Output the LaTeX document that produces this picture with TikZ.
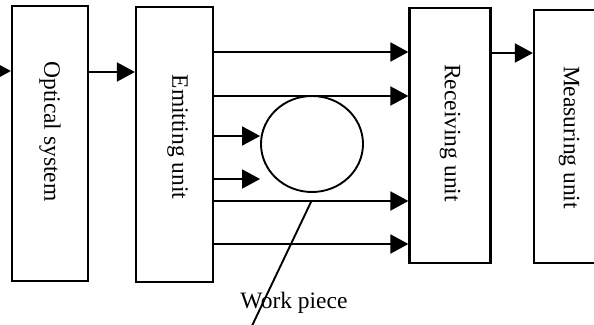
\documentclass[tikz,border=0pt]{standalone}
\usepackage{fontspec}
\setmainfont{Liberation Serif}
\usetikzlibrary{arrows.meta,shapes.geometric}
\tikzstyle{line} = [draw, line width=1.9pt, -{Triangle[length=18pt,width=19pt]}]
\tikzstyle{unitbox} = [rectangle, draw, line width=2.2pt, inner sep=0pt]
\tikzstyle{unittext} = [rotate=-90, inner sep=0pt, font=\fontsize{23.5}{28}\selectfont]

\begin{document}
\begin{tikzpicture}[x=1pt, y=-1pt]
\useasboundingbox (0,0) rectangle (594,324);
\clip (0,0) rectangle (594,324);

\node [unitbox, minimum width=76pt, minimum height=275pt] (opt) at (50,143.5) {};
\node [unitbox, minimum width=77pt, minimum height=275pt] (emit) at (174.5,144.5) {};
\node [unitbox, minimum width=81pt, minimum height=255pt] (recv) at (450,135.5) {};
\node [unitbox, minimum width=70pt, minimum height=253pt] (meas) at (569,136.5) {};

\node [unittext] (opt_t) at ([yshift=12pt]opt.center) {Optical system};
\node [unittext] (emit_t) at ([xshift=3pt,yshift=7.5pt]emit.center) {Emitting unit};
\node [unittext] (recv_t) at ([yshift=2.5pt]recv.center) {Receiving unit};
\node [unittext] (meas_t) at ([yshift=-1pt]meas.center) {Measuring unit};

\node [ellipse, draw, line width=1.9pt, minimum width=102pt, minimum height=96pt, inner sep=0pt] (wp) at (312,144) {};

\coordinate (src) at (-10,71);
\path [line] (src) -- (opt.west |- src);
\path [line] (opt.east |- 0,72) -- (emit.west |- 0,72);
\path [line] (recv.east |- 0,53) -- (meas.west |- 0,53);

% rays through the work piece
\path [line] (emit.east |- 0,52) -- (recv.west |- 0,52);
\path [line] (emit.east |- 0,96) -- (recv.west |- 0,96);
\path [line] (emit.east |- 0,136) -- (wp.west |- 0,136);
\path [line] (emit.east |- 0,179) -- (wp.west |- 0,179);
\path [line] (emit.east |- 0,201) -- (recv.west |- 0,201);
\path [line] (emit.east |- 0,244) -- (recv.west |- 0,244);

\node [anchor=base, inner sep=0pt, font=\fontsize{23.5}{28}\selectfont] (wp_t) at (294,308) {Work piece};
\coordinate (lead) at (250,330);
\draw [line width=1.9pt] ([xshift=-1pt,yshift=-9pt]wp.south) -- (lead);
\end{tikzpicture}
\end{document}
